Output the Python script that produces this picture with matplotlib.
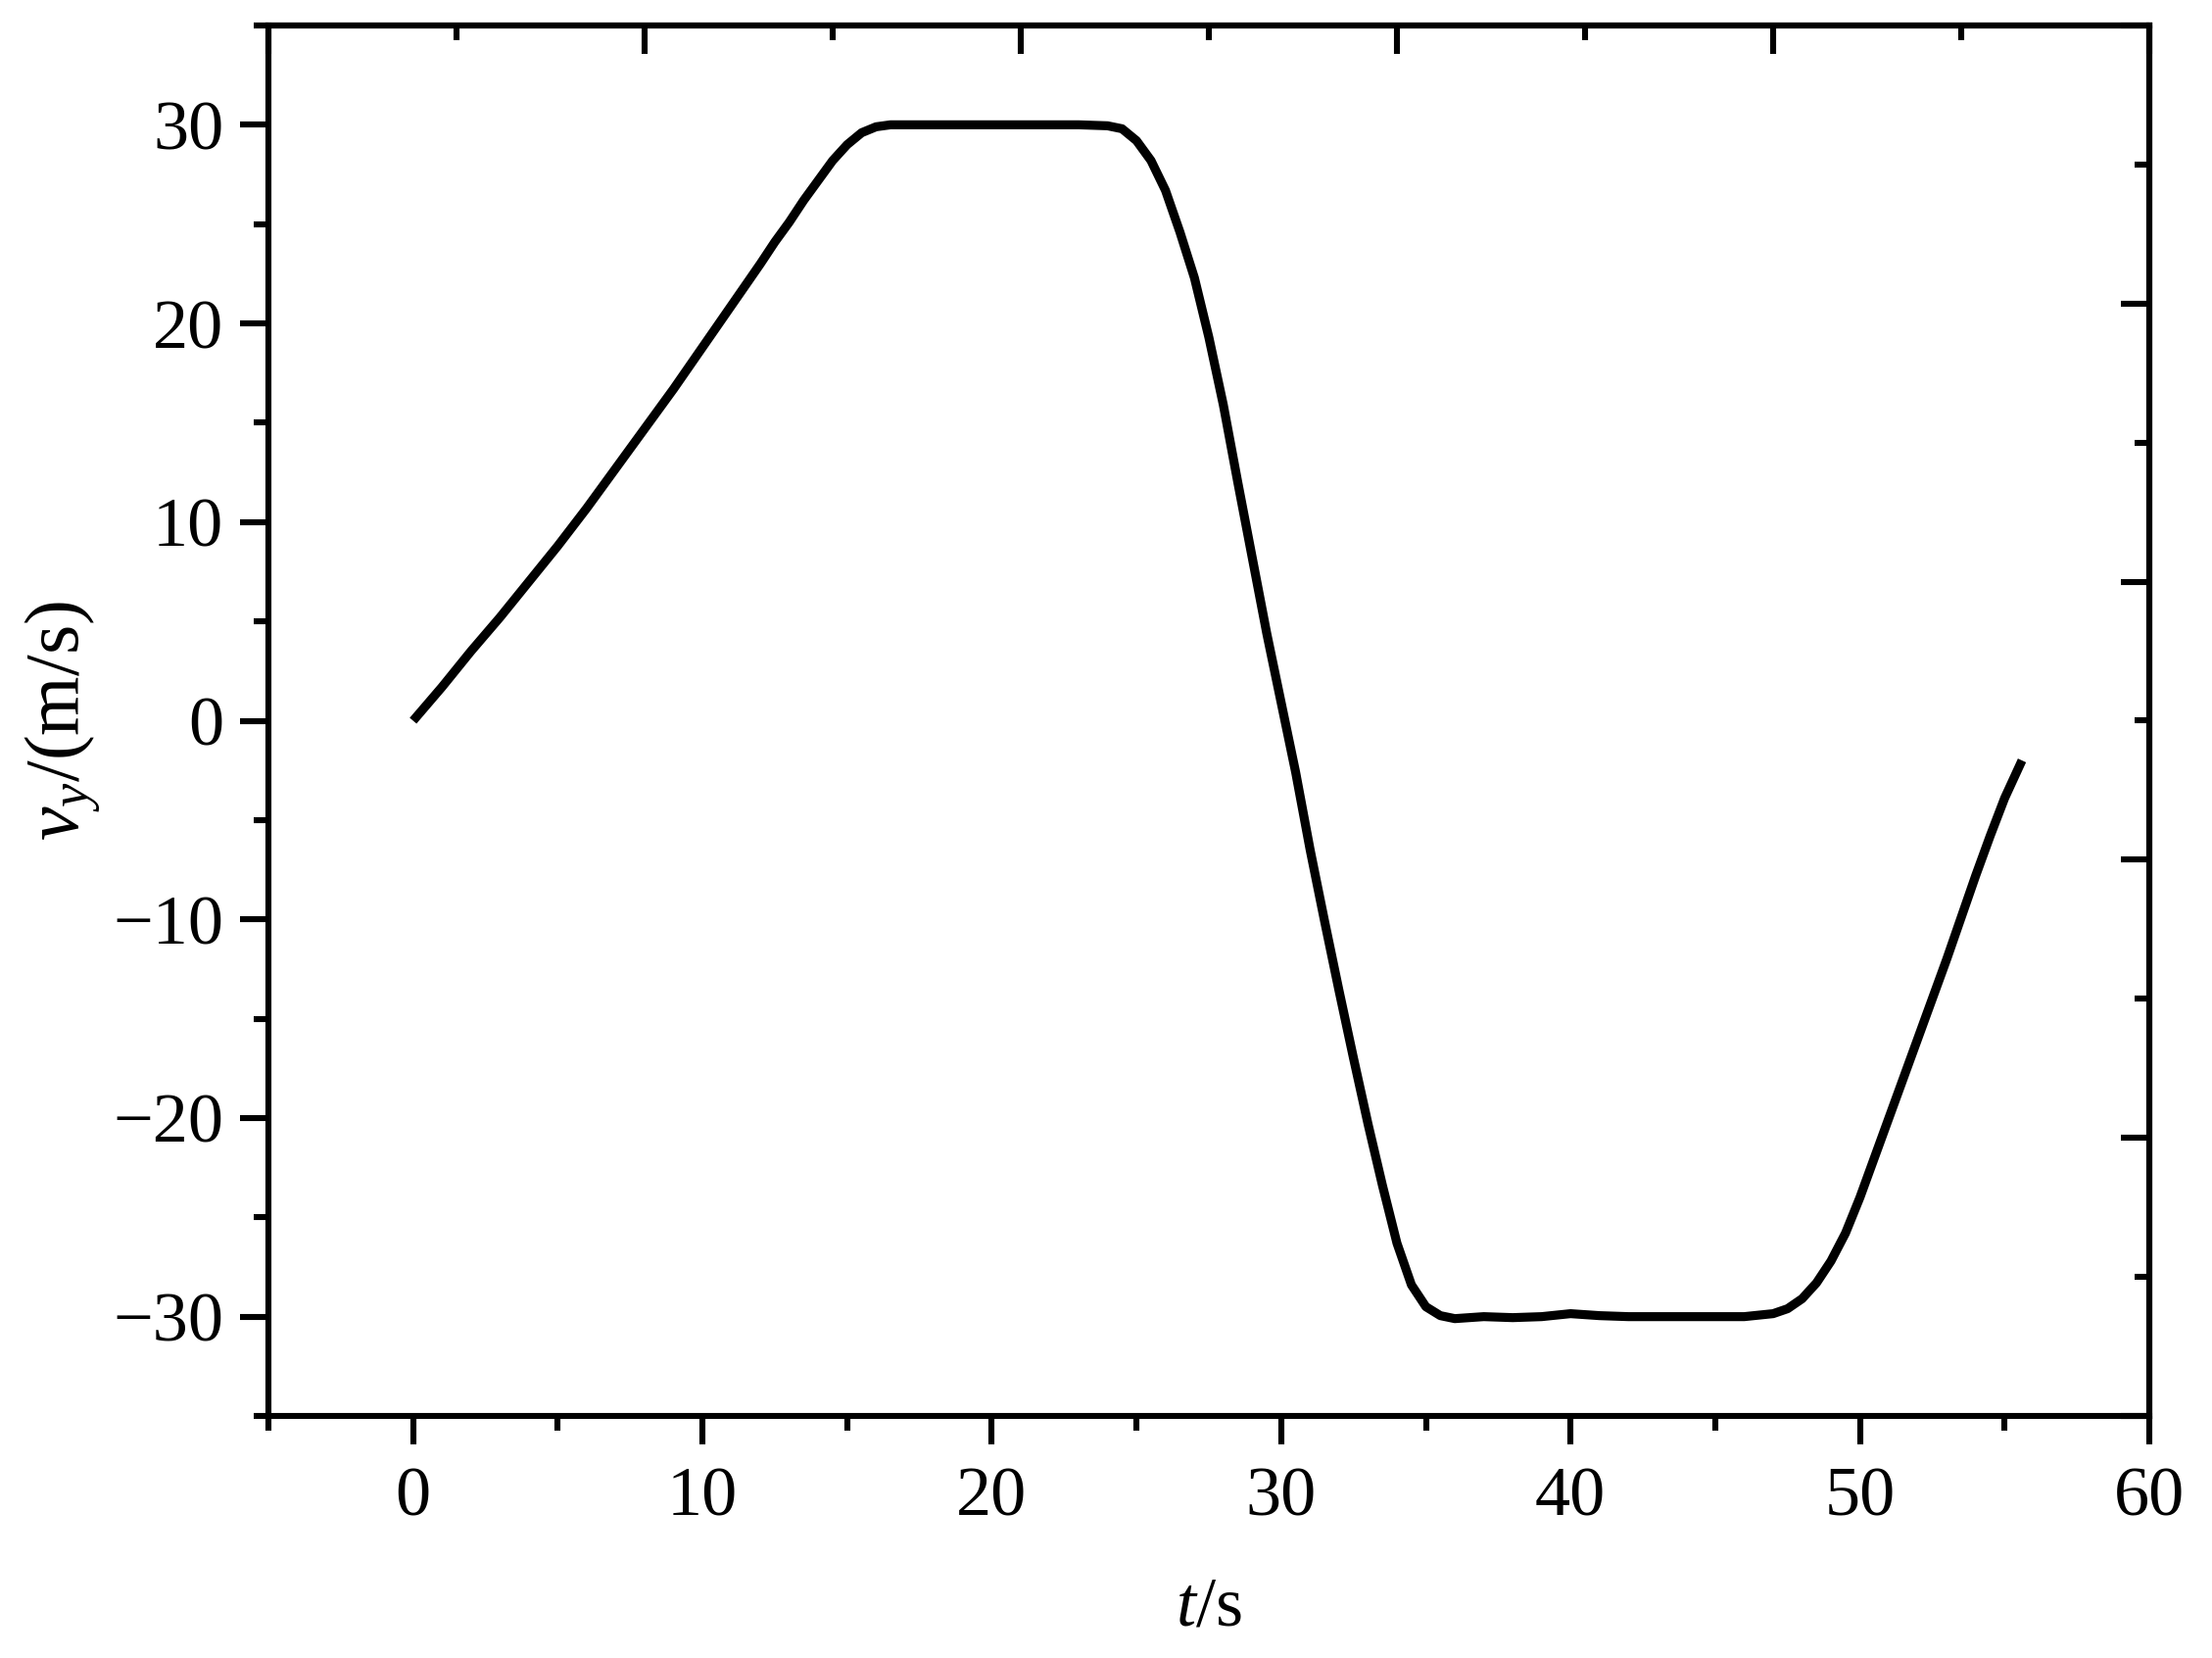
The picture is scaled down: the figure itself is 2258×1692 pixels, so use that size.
import matplotlib
matplotlib.use("Agg")
import matplotlib.pyplot as plt
from matplotlib.ticker import MultipleLocator, NullFormatter

# ---- data ----
t_s = [0, 1, 2, 3, 4, 5, 6, 7, 8, 9, 10, 11, 12, 12.5, 13, 13.5, 14, 14.5,
       15, 15.5, 16, 16.5, 17, 18, 20, 22, 23, 24, 24.5, 25, 25.5, 26, 26.5,
       27, 27.5, 28, 28.5, 29, 29.5, 30, 30.5, 31, 31.5, 32, 32.5, 33,
       33.5, 34, 34.5, 35, 35.5, 36, 37, 38, 39, 40, 41, 42, 43, 44, 45,
       46, 47, 47.5, 48, 48.5, 49, 49.5, 50, 50.5, 51, 51.5, 52, 52.5, 53,
       53.5, 54, 54.5, 55, 55.6]
v_y = [0, 1.7, 3.5, 5.2, 7.0, 8.8, 10.7, 12.7, 14.7, 16.7, 18.8, 20.9,
       23.0, 24.1, 25.1, 26.2, 27.2, 28.2, 29.0, 29.6, 29.9, 30.0, 30.0,
       30.0, 30.0, 30.0, 30.0, 29.95, 29.8, 29.2, 28.2, 26.7, 24.6, 22.3,
       19.3, 15.9, 12.0, 8.2, 4.4, 0.9, -2.6, -6.5, -10.1, -13.6, -17.0,
       -20.3, -23.4, -26.3, -28.4, -29.5, -29.95, -30.1, -30.0, -30.05,
       -30.0, -29.85, -29.95, -30.0, -30.0, -30.0, -30.0, -30.0, -29.85,
       -29.6, -29.1, -28.3, -27.2, -25.8, -24.0, -22.0, -20.0, -18.0,
       -16.0, -14.0, -12.0, -9.9, -7.8, -5.8, -3.9, -2.0]

x_limits = (-5, 60)
y_limits = (-35, 35)
x_ticks = [0, 10, 20, 30, 40, 50, 60]
y_ticks = [-30, -20, -10, 0, 10, 20, 30]
x_label = r"$t$/s"
y_label = r"$v_y$/(m/s)"

# ---- style ----
plt.rcParams['font.family'] = ['Liberation Serif', 'DejaVu Serif']
plt.rcParams['mathtext.fontset'] = 'custom'
plt.rcParams['mathtext.rm'] = 'Liberation Serif'
plt.rcParams['mathtext.it'] = 'Liberation Serif:italic'
plt.rcParams['axes.unicode_minus'] = True

FS = 26
LW_SP = 2.2
MAJ, MIN = 10.5, 5.5

fig = plt.figure(figsize=(11.29, 8.46), dpi=200)
ax = fig.add_axes([274 / 2258, 1 - 1445 / 1692, (2194 - 274) / 2258, (1445 - 26) / 1692])

ax.plot(t_s, v_y, color='black', lw=3.3, solid_joinstyle='round', solid_capstyle='butt')

ax.set_xlim(*x_limits)
ax.set_ylim(*y_limits)
ax.set_xticks(x_ticks)
ax.set_yticks(y_ticks)
ax.xaxis.set_minor_locator(MultipleLocator(5))
ax.yaxis.set_minor_locator(MultipleLocator(5))

for s in ax.spines.values():
    s.set_linewidth(LW_SP)

ax.tick_params(which='both', direction='out', width=LW_SP, labelsize=FS,
               top=False, right=False)
ax.tick_params(which='major', length=MAJ)
ax.tick_params(which='minor', length=MIN)
ax.tick_params(axis='x', which='major', pad=8)
ax.tick_params(axis='y', which='major', pad=6)

# independent secondary scales on top and right (ticks only, inward)
sx = ax.secondary_xaxis('top', functions=(lambda t: (t - x_limits[0]) / (x_limits[1] - x_limits[0]),
                                          lambda u: u * (x_limits[1] - x_limits[0]) + x_limits[0]))
sx.set_xticks([0, 0.2, 0.4, 0.6, 0.8, 1.0])
sx.xaxis.set_minor_locator(MultipleLocator(0.1))
sx.xaxis.set_major_formatter(NullFormatter())
sx.tick_params(which='both', direction='in', width=LW_SP)
sx.tick_params(which='major', length=MAJ)
sx.tick_params(which='minor', length=MIN)
sx.spines['top'].set_linewidth(LW_SP)

sy = ax.secondary_yaxis('right', functions=(lambda v: (v - y_limits[0]) / (y_limits[1] - y_limits[0]),
                                            lambda u: u * (y_limits[1] - y_limits[0]) + y_limits[0]))
sy.set_yticks([0, 0.2, 0.4, 0.6, 0.8, 1.0])
sy.yaxis.set_minor_locator(MultipleLocator(0.1))
sy.yaxis.set_major_formatter(NullFormatter())
sy.tick_params(which='both', direction='in', width=LW_SP)
sy.tick_params(which='major', length=MAJ)
sy.tick_params(which='minor', length=MIN)
sy.spines['right'].set_linewidth(LW_SP)

ax.set_xlabel(x_label, fontsize=FS)
ax.set_ylabel(y_label, fontsize=28)
ax.xaxis.set_label_coords(0.5, -0.115)
ax.yaxis.set_label_coords(-0.088, 0.5)

fig.savefig('out.png', dpi=200, facecolor='white')
